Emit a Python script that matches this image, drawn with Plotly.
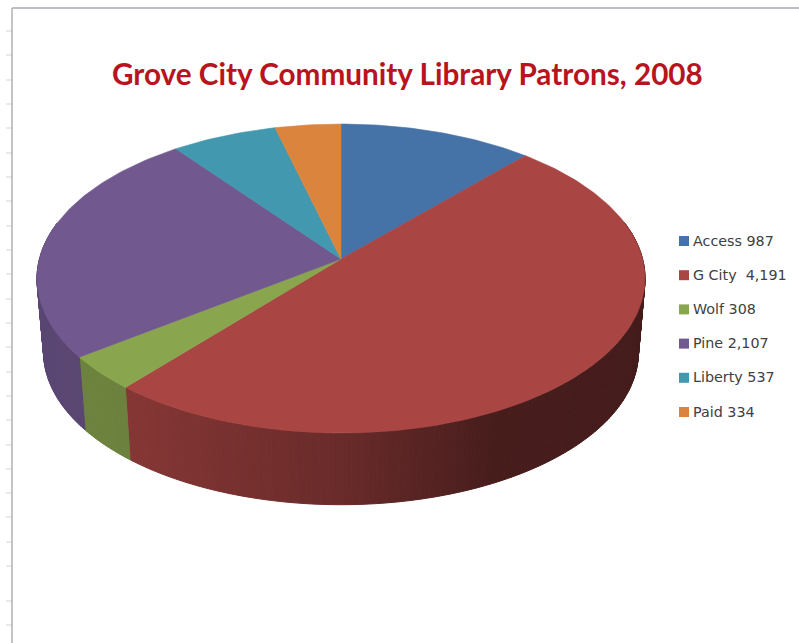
import numpy as np
import plotly.graph_objects as go

# Data
categories = ["Access", "G City", "Wolf", "Pine", "Liberty", "Paid"]
patrons = [987, 4191, 308, 2107, 537, 334]
legend_labels = ["Access 987", "G City  4,191", "Wolf 308", "Pine 2,107", "Liberty 537", "Paid 334"]
colors = ["#4572A7", "#A94543", "#89A54E", "#71588F", "#4198AF", "#DB843D"]
title_text = "Grove City Community Library Patrons, 2008"

W, H = 799, 643
CX = 341.0
K = 0.1264


def project(theta, cy, a, b):
    u, v = np.sin(theta), np.cos(theta)
    w = 1 + K * v
    return CX + a * u / w, cy - b * v / w


def top(theta):
    return project(theta, 259.0, 301.6, 152.0)


def bottom(theta):
    return project(theta, 333.0, 295.0, 150.0)


def shade(hex_colour, f):
    r, g, b = (int(hex_colour[i:i + 2], 16) for i in (1, 3, 5))
    return f"rgb({r * f:.0f},{g * f:.0f},{b * f:.0f})"


shares = np.array(patrons, dtype=float) / sum(patrons)
edges = np.concatenate([[0], np.cumsum(shares)]) * 2 * np.pi

fig = go.Figure()

# Side wall: very narrow shaded strips following each slice's rim
STEP = np.radians(0.75)
for name, col, t0, t1 in zip(categories, colors, edges[:-1], edges[1:]):
    n = max(2, int((t1 - t0) / STEP) + 1)
    ts = np.linspace(t0, t1, n + 1)
    for a0, a1 in zip(ts[:-1], ts[1:]):
        mid = (a0 + a1) / 2
        if np.cos(mid) > 0.25:
            continue
        arc = np.array([a1, a0])
        xt, yt = top(arc)
        xb, yb = bottom(arc[::-1])
        f = float(np.interp(np.sin(mid), [-1, -0.6, 0, 0.45, 1], [0.8, 0.78, 0.62, 0.42, 0.4]))
        c = shade(col, f)
        fig.add_trace(go.Scatter(
            x=np.r_[xt, xb, xt[0]], y=np.r_[yt, yb, yt[0]],
            mode="lines", fill="toself", fillcolor=c,
            line=dict(color=c, width=1.0), showlegend=False, hoverinfo="skip", name=name,
        ))

# Top face of each slice
for name, col, val, t0, t1 in zip(categories, colors, patrons, edges[:-1], edges[1:]):
    ts = np.linspace(t0, t1, max(4, int((t1 - t0) / np.radians(1)) + 1))
    xs, ys = top(ts)
    fig.add_trace(go.Scatter(
        x=np.r_[CX, xs, CX], y=np.r_[259.0, ys, 259.0],
        mode="lines", fill="toself", fillcolor=col,
        line=dict(color=col, width=0.6), name=name,
        showlegend=False, hoveron="fills", text=f"{name}: {val:,}", hoverinfo="text",
    ))

# Legend
LEG_TOP, LEG_STEP = 241.0, 34.2
leg_y = [LEG_TOP + i * LEG_STEP for i in range(len(legend_labels))]
fig.add_trace(go.Scatter(
    x=[684] * len(legend_labels), y=leg_y, mode="markers",
    marker=dict(symbol="square", size=10, color=colors),
    showlegend=False, hoverinfo="skip", cliponaxis=False,
))
fig.add_trace(go.Scatter(
    x=[693] * len(legend_labels), y=[v + 1 for v in leg_y], mode="text",
    text=legend_labels, textposition="middle right",
    textfont=dict(family="DejaVu Sans", size=14.3, color="#404040"),
    showlegend=False, hoverinfo="skip", cliponaxis=False,
))

# Sheet frame and ruler ticks behind the chart
shapes = [
    dict(type="line", x0=12, x1=799, y0=8, y1=8, line=dict(color="#A8A8B4", width=1.5)),
    dict(type="line", x0=12, x1=12, y0=8, y1=643, line=dict(color="#B0B0B0", width=1.5)),
]
for y in [31, 55, 80, 104, 128, 153, 177, 201, 226, 250, 274, 299, 323, 347, 372, 396, 420,
          445, 469, 493, 517, 542, 566, 601, 625]:
    shapes.append(dict(type="line", x0=6, x1=12, y0=y, y1=y, layer="below",
                       line=dict(color="#D6D6D6", width=1)))

fig.update_layout(
    width=W, height=H, autosize=False,
    margin=dict(l=0, r=0, t=0, b=0),
    paper_bgcolor="white", plot_bgcolor="white",
    showlegend=False, shapes=shapes,
    xaxis=dict(range=[0, W], visible=False, fixedrange=True),
    yaxis=dict(range=[H, 0], visible=False, fixedrange=True),
    annotations=[dict(
        text=f"<b>{title_text}</b>", x=407, y=73, xref="x", yref="y",
        showarrow=False, xanchor="center", yanchor="middle",
        font=dict(family="Lato", size=29.7, color="#B81420"),
    )],
)
fig.write_html("out.html", config={"displayModeBar": False},
               post_script="document.body.style.margin='0';document.documentElement.style.overflow='hidden';")
